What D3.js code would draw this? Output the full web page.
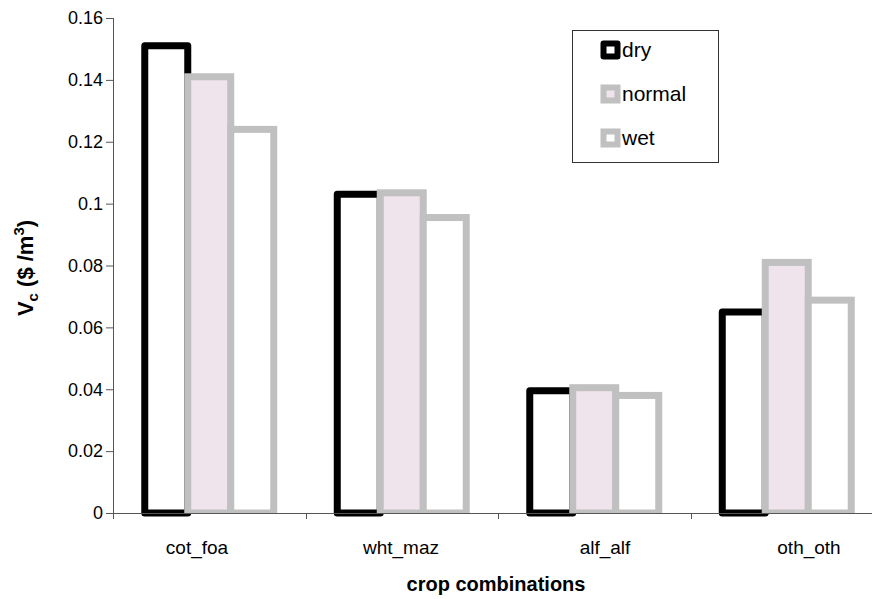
<!DOCTYPE html>
<html>
<head>
<meta charset="utf-8">
<script src="https://cdn.jsdelivr.net/npm/d3@7"></script>
<style>
  html, body { margin: 0; padding: 0; background: #fff; }
  svg { display: block; font-family: "Liberation Sans", Arial, sans-serif; }
</style>
</head>
<body>
<svg id="chart" width="872" height="599"></svg>
<script>
// Crop combinations and the value of water under each rainfall scenario
const categories = ["cot_foa", "wht_maz", "alf_alf", "oth_oth"];
const seriesNames = ["dry", "normal", "wet"];
const dryValues    = [0.151, 0.103, 0.0395, 0.065];
const normalValues = [0.141, 0.1035, 0.0405, 0.081];
const wetValues    = [0.124, 0.0955, 0.038, 0.0688];
const yTickValues  = [0, 0.02, 0.04, 0.06, 0.08, 0.1, 0.12, 0.14, 0.16];

const seriesStyle = {
  dry:    { stroke: "#000000", fill: "#ffffff", join: "round", clip: false },
  normal: { stroke: "#c0c0c0", fill: "#f0e4ec", join: "miter", clip: true },
  wet:    { stroke: "#c0c0c0", fill: "#ffffff", join: "miter", clip: true }
};

const seriesValues = { dry: dryValues, normal: normalValues, wet: wetValues };
const rows = categories.map((c, i) => ({
  category: c,
  values: seriesNames.map(s => ({ series: s, value: seriesValues[s][i] }))
}));

const svg = d3.select("#chart");
const plotLeft = 113, plotRight = 883, plotTop = 18, plotBottom = 513;

const x0 = d3.scaleBand().domain(categories).range([plotLeft, plotRight])
  .paddingInner(0.33).paddingOuter(0.165);
const x1 = d3.scaleBand().domain(seriesNames).range([0, x0.bandwidth()]);
const y = d3.scaleLinear().domain([0, 0.16]).range([plotBottom, plotTop]);
// category captions sit on a slightly wider spread than the bar groups
const xLabel = d3.scalePoint().domain(categories).range([197, 809]);

// grey outlines stop at the baseline
svg.append("defs").append("clipPath").attr("id", "above-base")
  .append("rect").attr("x", 0).attr("y", 0).attr("width", 900).attr("height", plotBottom + 1);

// Bars: each series in turn so later ones overlap earlier outlines
const groups = svg.append("g").selectAll("g").data(rows).join("g")
  .attr("transform", d => `translate(${x0(d.category)},0)`);
groups.selectAll("rect").data(d => d.values).join("rect")
  .attr("x", d => x1(d.series))
  .attr("y", d => y(d.value))
  .attr("width", x1.bandwidth())
  .attr("height", d => y(0) - y(d.value))
  .attr("fill", d => seriesStyle[d.series].fill)
  .attr("stroke", d => seriesStyle[d.series].stroke)
  .attr("stroke-width", 7)
  .attr("stroke-linejoin", d => seriesStyle[d.series].join)
  .attr("clip-path", d => seriesStyle[d.series].clip ? "url(#above-base)" : null);

// Y axis
const yAxis = svg.append("g").attr("transform", `translate(${plotLeft},0)`)
  .call(d3.axisLeft(y).tickValues(yTickValues).tickSize(7).tickPadding(3)
    .tickFormat(d => String(d)));
yAxis.select(".domain").attr("stroke", "#555").attr("d", `M0.5,${plotTop}V${plotBottom}`);
yAxis.selectAll(".tick line").attr("stroke", "#555");
yAxis.selectAll(".tick text").attr("font-size", 18).attr("fill", "#000")
  .attr("font-family", "Liberation Sans, Arial, sans-serif");

// X axis: baseline with ticks on category boundaries
const xAxis = svg.append("g");
xAxis.append("line")
  .attr("x1", plotLeft - 7).attr("x2", plotRight)
  .attr("y1", plotBottom + 0.5).attr("y2", plotBottom + 0.5)
  .attr("stroke", "#555");
const boundaries = d3.range(categories.length + 1).map(i => plotLeft + i * x0.step());
xAxis.selectAll("line.tick").data(boundaries).join("line").attr("class", "tick")
  .attr("x1", d => Math.round(d) + 0.5).attr("x2", d => Math.round(d) + 0.5)
  .attr("y1", plotBottom).attr("y2", plotBottom + 6).attr("stroke", "#555");
xAxis.selectAll("text").data(categories).join("text")
  .attr("x", d => xLabel(d))
  .attr("y", 554)
  .attr("text-anchor", "middle")
  .attr("font-size", 19)
  .text(d => d);

// Axis titles
svg.append("text")
  .attr("x", 496).attr("y", 591)
  .attr("text-anchor", "middle")
  .attr("font-size", 20).attr("font-weight", "bold")
  .text("crop combinations");

const yTitle = svg.append("text")
  .attr("transform", "translate(33,268) rotate(-90)")
  .attr("text-anchor", "middle")
  .attr("font-size", 22).attr("font-weight", "bold");
yTitle.append("tspan").text("V");
yTitle.append("tspan").attr("font-size", 15).attr("dy", 5).text("c");
yTitle.append("tspan").attr("dy", -5).text(" ($ /m");
yTitle.append("tspan").attr("font-size", 15).attr("dy", -9).text("3");
yTitle.append("tspan").attr("dy", 9).text(")");

// Legend
const legend = svg.append("g");
legend.append("rect")
  .attr("x", 572.5).attr("y", 30.5).attr("width", 146).attr("height", 132)
  .attr("fill", "#fff").attr("stroke", "#333").attr("stroke-width", 1);
const items = legend.selectAll("g.item").data(seriesNames).join("g").attr("class", "item")
  .attr("transform", (d, i) => `translate(0,${50 + i * 44})`);
items.append("rect")
  .attr("x", 603.5).attr("y", -6.5).attr("width", 14).attr("height", 13)
  .attr("fill", d => seriesStyle[d].fill)
  .attr("stroke", d => seriesStyle[d].stroke)
  .attr("stroke-width", 6)
  .attr("stroke-linejoin", d => seriesStyle[d].join);
items.append("text")
  .attr("x", 622).attr("y", 7)
  .attr("font-size", 21)
  .text(d => d);
</script>
</body>
</html>
